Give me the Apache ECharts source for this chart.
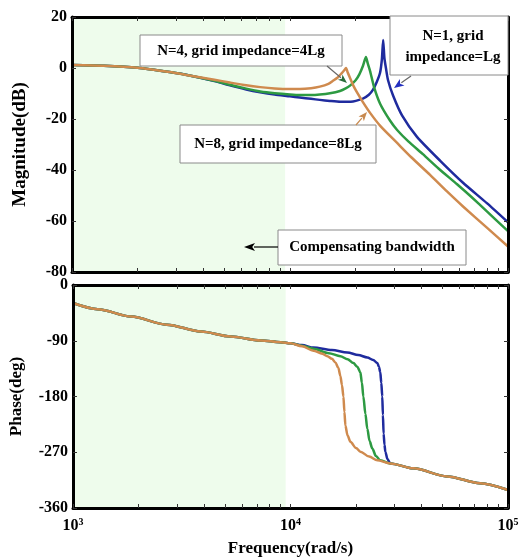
<!DOCTYPE html>
<html>
<head>
<meta charset="utf-8">
<script src="https://cdn.jsdelivr.net/npm/echarts@6/dist/echarts.min.js"></script>
<style>
html,body{margin:0;padding:0;background:#fff;}
#c{width:525px;height:558px;}
</style>
</head>
<body>
<div id="c"></div>
<script>
// ---------- data (frequency in rad/s) ----------
var freqMin = 1000, freqMax = 100000;
var majorTickFreqs = [1000, 10000, 100000];
var minorTickFreqs = [1000,2000,3000,4000,5000,6000,7000,8000,9000,10000,20000,30000,40000,50000,60000,70000,80000,90000,100000];
var magTicks = [-80, -60, -40, -20, 0, 20];
var phaseTicks = [-360, -270, -180, -90, 0];
var compensatingBand = [1000, 9500];

var seriesNames = ['N=1, grid impedance=Lg', 'N=4, grid impedance=4Lg', 'N=8, grid impedance=8Lg'];

var magN1 = [[1000,1.2],[1400,0.9],[2000,0.1],[2800,-1.6],[3500,-3.0],[4500,-5.1],[5300,-6.8],[6300,-8.4],[7300,-9.5],[8500,-10.4],[10000,-11.1],[11100,-11.6],[12500,-12.1],[13700,-12.5],[15250,-12.9],[17000,-13.2],[19000,-13.2],[21600,-12.0],[23000,-10.5],[24000,-8.6],[25000,-5.5],[25870,-2.0],[26400,3.5],[26750,11],[27100,4.0],[27600,-0.5],[28150,-4.7],[29700,-10.8],[32650,-18.6],[38240,-27],[48760,-36.3],[62190,-45],[80000,-53],[100000,-60.5]];
var magN4 = [[1000,1.2],[1400,0.9],[2000,0.1],[2800,-1.6],[3500,-3.0],[4500,-5.0],[5300,-6.6],[6300,-8.1],[7300,-9.2],[8500,-9.9],[10000,-10.4],[11100,-10.6],[12500,-10.6],[13700,-10.4],[15250,-9.9],[16950,-9.0],[18000,-8.0],[18850,-6.9],[20000,-4.8],[20800,-2.5],[21600,0.8],[22000,3.0],[22300,4.3],[22700,2.0],[23300,-1.2],[24300,-7.5],[25900,-14.0],[28750,-20.6],[31000,-24.3],[35000,-28.9],[40700,-33.8],[48000,-39.4],[58400,-45.6],[68000,-50.6],[80000,-56.2],[100000,-64]];
var magN8 = [[1000,1.2],[1400,0.9],[2000,0.1],[2800,-1.6],[3500,-3.0],[4500,-4.6],[5300,-5.7],[6300,-6.8],[7300,-7.5],[8500,-8.0],[10000,-8.2],[11100,-8.2],[12500,-7.9],[13700,-7.3],[15000,-6.2],[15750,-5.0],[16500,-3.8],[17200,-2.2],[17700,-1.0],[18070,0],[18400,-1.8],[18850,-3.9],[19500,-6.8],[20300,-9.6],[21600,-13.4],[23300,-17.6],[26000,-22.8],[31000,-29.4],[36000,-35.0],[43900,-41.9],[52500,-48.4],[62200,-54.3],[80000,-62.6],[100000,-70]];

var phaseN1 = [[1000,-29],[1300,-39],[1850,-51],[2700,-64],[3870,-75],[5300,-83],[7300,-89.5],[9000,-92.3],[10000,-94],[11300,-97],[12750,-101],[15500,-105],[18260,-109],[20500,-113],[22550,-117],[24000,-121],[25070,-126],[25500,-132],[25870,-141],[26150,-158],[26420,-180],[26600,-210],[26800,-240],[27050,-258],[27290,-269],[27900,-281],[28750,-288],[36660,-296],[52500,-309],[74380,-320],[100000,-331]];
var phaseN4 = [[1000,-29],[1300,-39],[1850,-51],[2700,-64],[3870,-75],[5300,-83],[7300,-89.5],[9000,-92.3],[10000,-94],[11300,-98],[12750,-103],[15000,-110],[16960,-115],[18300,-120],[19460,-126],[20300,-132],[20950,-141],[21300,-158],[21620,-180],[22100,-208],[22550,-232],[23100,-252],[23780,-264],[24700,-276],[25870,-283],[28750,-288],[36660,-296],[52500,-309],[74380,-320],[100000,-331]];
var phaseN8 = [[1000,-29],[1300,-39],[1850,-51],[2700,-64],[3870,-75],[5300,-83],[7300,-89.5],[9000,-92.3],[10000,-94],[11300,-99],[12750,-106],[14000,-111],[14780,-115],[15500,-119],[16090,-125],[16600,-134],[16960,-147],[17250,-162],[17510,-180],[17700,-205],[17880,-227],[18300,-243],[18850,-253],[20000,-263],[20950,-269],[23000,-277],[25070,-283],[28750,-288],[36660,-296],[52500,-309],[74380,-320],[100000,-331]];

// ---------- styles ----------
var FONT = '"Liberation Serif", "Times New Roman", serif';
var colors = ['#1f2b9e', '#2d9a42', '#cf8a4e'];
var shadeColor = '#eefcec';

var chart = echarts.init(document.getElementById('c'), null, {renderer: 'canvas'});

function xAxisDef(grid, pos, labels) {
  return {
    type: 'log', logBase: 10, gridIndex: grid, position: pos,
    min: freqMin, max: freqMax, z: 10,
    axisLine: {show: true, onZero: false, lineStyle: {color: '#000', width: 3}},
    axisTick: {show: true, inside: true, length: 4, customValues: minorTickFreqs, lineStyle: {color: '#333', width: 1}},
    minorTick: {show: false},
    splitLine: {show: false},
    axisLabel: labels ? {
      show: true, margin: 9, customValues: majorTickFreqs,
      formatter: function (v) { return '{b|10}{s|' + Math.round(Math.log10(v)) + '}'; },
      rich: {
        b: {fontFamily: FONT, fontWeight: 'bold', fontSize: 16, color: '#000', lineHeight: 18},
        s: {fontFamily: FONT, fontWeight: 'bold', fontSize: 10, color: '#000', verticalAlign: 'top', lineHeight: 10}
      }
    } : {show: false},
    name: labels ? 'Frequency(rad/s)' : '',
    nameLocation: 'middle', nameGap: 32,
    nameTextStyle: {fontFamily: FONT, fontWeight: 'bold', fontSize: 17, color: '#000'}
  };
}
function yAxisDef(grid, pos, ticks, name, nameGap, nameSize, labels) {
  var step = ticks[1] - ticks[0];
  return {
    type: 'value', gridIndex: grid, position: pos, z: 10,
    min: ticks[0], max: ticks[ticks.length - 1], interval: step,
    axisLine: {show: true, onZero: false, lineStyle: {color: '#000', width: 3}},
    axisTick: {show: true, inside: true, length: 4, lineStyle: {color: '#333'}},
    splitLine: {show: false},
    axisLabel: {show: labels, margin: 5, fontFamily: FONT, fontWeight: 'bold', fontSize: 16, color: '#000'},
    name: labels ? name : '', nameLocation: 'middle', nameGap: nameGap, nameRotate: 90,
    nameTextStyle: {fontFamily: FONT, fontWeight: 'bold', fontSize: nameSize, color: '#000'}
  };
}
function lineSeries(name, data, xi, yi, color, smooth, mono) {
  return {
    name: name, type: 'line', xAxisIndex: xi, yAxisIndex: yi, data: data,
    showSymbol: false, symbol: 'none', smooth: smooth, smoothMonotone: mono, z: 3,
    lineStyle: {color: color, width: 2.5, join: 'round'}, itemStyle: {color: color}, clip: true, silent: true
  };
}
function bandSeries(xi, yi) {
  return {
    type: 'line', xAxisIndex: xi, yAxisIndex: yi, data: [], z: 1, silent: true,
    markArea: {silent: true, itemStyle: {color: shadeColor}, data: [[{xAxis: compensatingBand[0]}, {xAxis: compensatingBand[1]}]]}
  };
}

function arrow(x1, y1, x2, y2, lineColor, headColor, headLen, headW) {
  var dx = x2 - x1, dy = y2 - y1, L = Math.sqrt(dx * dx + dy * dy);
  var ux = dx / L, uy = dy / L, px = -uy, py = ux;
  var bx = x2 - ux * headLen, by = y2 - uy * headLen;
  return [
    {type: 'line', z: 20, shape: {x1: x1, y1: y1, x2: bx + ux * 1, y2: by + uy * 1}, style: {stroke: lineColor, lineWidth: 1.2}},
    {type: 'polygon', z: 20, shape: {points: [[x2, y2], [bx + px * headW / 2, by + py * headW / 2], [bx + ux * headLen * 0.25, by + uy * headLen * 0.25], [bx - px * headW / 2, by - py * headW / 2]]}, style: {fill: headColor}}
  ];
}
function box(x, y, w, h) {
  return {type: 'rect', z: 19, shape: {x: x, y: y, width: w, height: h}, style: {fill: '#fff', stroke: '#8a8a8a', lineWidth: 1}};
}
function label(text, x, y) {
  return {type: 'text', z: 21, x: x, y: y, style: {text: text, font: 'bold 15px ' + FONT, fill: '#000', align: 'center', verticalAlign: 'middle', textAlign: 'center', textVerticalAlign: 'middle'}};
}

var graphics = [].concat(
  [box(140, 35, 202, 31), label('N=4, grid impedance=4Lg', 241, 51)],
  arrow(327, 66, 347, 83, '#666', '#2a6e3a', 9, 7),
  [box(180, 125, 196, 38), label('N=8, grid impedance=8Lg', 278, 144)],
  arrow(356, 125, 367, 112, '#c88a50', '#c88a50', 9, 7),
  [box(390, 16, 118, 59), label('N=1, grid', 453, 36), label('impedance=Lg', 453, 57)],
  arrow(411, 76, 394, 88, '#666', '#2430c0', 10, 8),
  [box(278, 230, 188, 35), label('Compensating bandwidth', 372, 247)],
  arrow(278, 247, 244, 247, '#000', '#000', 11, 8)
);

var option = {
  animation: false,
  backgroundColor: '#fff',
  grid: [
    {left: 72, top: 17, width: 436, height: 255, containLabel: false},
    {left: 72, top: 285, width: 436, height: 225, containLabel: false}
  ],
  xAxis: [xAxisDef(0, 'bottom', false), xAxisDef(0, 'top', false), xAxisDef(1, 'bottom', true), xAxisDef(1, 'top', false)],
  yAxis: [
    yAxisDef(0, 'left', magTicks, 'Magnitude(dB)', 42, 19, true),
    yAxisDef(0, 'right', magTicks, '', 0, 19, false),
    yAxisDef(1, 'left', phaseTicks, 'Phase(deg)', 48, 17, true),
    yAxisDef(1, 'right', phaseTicks, '', 0, 17, false)
  ],
  series: [
    bandSeries(0, 0),
    bandSeries(2, 2),
    lineSeries(seriesNames[0], magN1, 0, 0, colors[0], 0.2, null),
    lineSeries(seriesNames[1], magN4, 0, 0, colors[1], 0.2, null),
    lineSeries(seriesNames[2], magN8, 0, 0, colors[2], 0.2, null),
    lineSeries(seriesNames[0], phaseN1, 2, 2, colors[0], 0.3, 'x'),
    lineSeries(seriesNames[1], phaseN4, 2, 2, colors[1], 0.3, 'x'),
    lineSeries(seriesNames[2], phaseN8, 2, 2, colors[2], 0.3, 'x')
  ],
  graphic: graphics
};
chart.setOption(option);
</script>
</body>
</html>
